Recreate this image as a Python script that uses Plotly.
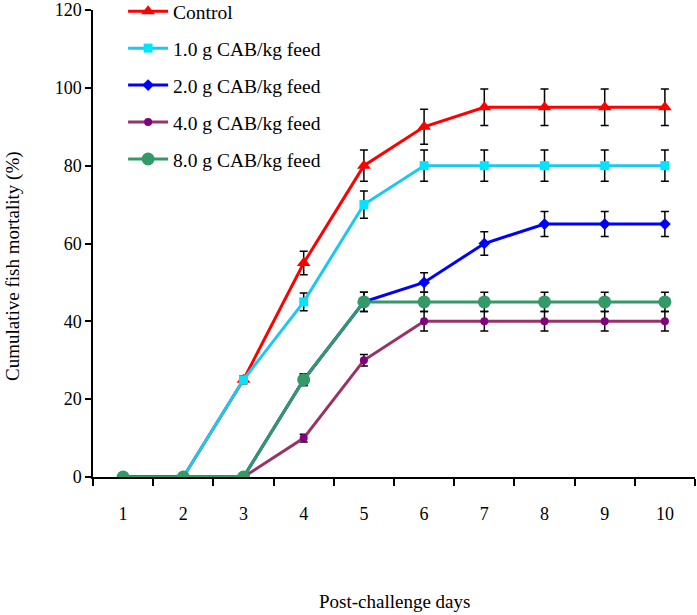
import plotly.graph_objects as go

days = [1, 2, 3, 4, 5, 6, 7, 8, 9, 10]
series_names = ["Control", "1.0 g CAB/kg feed", "2.0 g CAB/kg feed", "4.0 g CAB/kg feed", "8.0 g CAB/kg feed"]
control = [0, 0, 25, 55, 80, 90, 95, 95, 95, 95]
control_err = [0, 0, 1, 3, 4, 4.5, 4.7, 4.7, 4.7, 4.7]
cab1 = [0, 0, 25, 45, 70, 80, 80, 80, 80, 80]
cab1_err = [0, 0, 1, 2.3, 3.5, 4, 4, 4, 4, 4]
cab2 = [0, 0, 0, 25, 45, 50, 60, 65, 65, 65]
cab2_err = [0, 0, 0, 1.5, 2.5, 2.5, 3, 3.2, 3.2, 3.2]
cab4 = [0, 0, 0, 10, 30, 40, 40, 40, 40, 40]
cab4_err = [0, 0, 0, 1, 1.5, 2.5, 2.5, 2.5, 2.5, 2.5]
cab8 = [0, 0, 0, 25, 45, 45, 45, 45, 45, 45]
cab8_err = [0, 0, 0, 1.5, 2.5, 2.5, 2.5, 2.5, 2.5, 2.5]
y_ticks = [0, 20, 40, 60, 80, 100, 120]

FONT = "Liberation Serif, Times New Roman, serif"

styles = [
    dict(line="#FF0000", marker="#FF0000", symbol="triangle-up", size=12),
    dict(line="#1CC8F2", marker="#00E5FF", symbol="square", size=9),
    dict(line="#0000FF", marker="#0000FF", symbol="diamond", size=9),
    dict(line="#993366", marker="#800080", symbol="circle", size=8),
    dict(line="#339966", marker="#339966", symbol="circle", size=13),
]
values = [control, cab1, cab2, cab4, cab8]
errors = [control_err, cab1_err, cab2_err, cab4_err, cab8_err]

fig = go.Figure()
for i, (name, y, e, st) in enumerate(zip(series_names, values, errors, styles)):
    fig.add_trace(go.Scatter(
        x=days, y=y, name=name, mode="lines+markers",
        line=dict(color=st["line"], width=3),
        marker=dict(color=st["marker"], symbol=st["symbol"], size=st["size"]),
        error_y=dict(type="data", array=e, visible=True, color="black", thickness=1.5, width=4),
        legendgroup=f"g{i}",
    ))

TOP = 10
PH = 477 - TOP

fig.update_layout(
    width=697, height=615,
    margin=dict(l=93, r=2, t=TOP, b=138, autoexpand=False),
    paper_bgcolor="white", plot_bgcolor="white",
    font=dict(family=FONT, size=18, color="black"),
    showlegend=True,
    legend=dict(
        x=0.05, y=1 + (TOP + 8) / PH, xanchor="left", yanchor="top",
        bgcolor="rgba(0,0,0,0)", font=dict(size=19.5, family=FONT),
        traceorder="grouped", tracegroupgap=8.6,
        itemwidth=40,
    ),
    xaxis=dict(
        range=[0.5, 10.5], tickvals=days, ticktext=[str(d) for d in days],
        ticks="", showline=True, linecolor="black", linewidth=1.5,
        showgrid=False, zeroline=False, ticklabelstandoff=20, automargin=False,
        ticklabeloverflow="allow",
        minor=dict(tickmode="linear", tick0=0.5, dtick=1, ticks="outside",
                   ticklen=7, tickwidth=1.5, tickcolor="black", showgrid=False),
    ),
    yaxis=dict(
        range=[0, 120], tickmode="array", tickvals=y_ticks,
        ticktext=[str(v) for v in y_ticks], automargin=False,
        ticklabeloverflow="allow",
        ticks="outside", ticklen=6, tickwidth=1.5,
        tickcolor="black", showline=True, linecolor="black", linewidth=1.5,
        showgrid=False, zeroline=False,
    ),
    annotations=[
        dict(text="Post-challenge days", xref="paper", yref="paper",
             x=0.5, y=-(601 - 477) / PH, xanchor="center", yanchor="middle",
             showarrow=False, font=dict(size=19, family=FONT)),
        dict(text="Cumulative fish mortality (%)", xref="paper", yref="paper",
             x=-(93 - 13) / 602, y=1 - (266 - TOP) / PH, xanchor="center", yanchor="middle",
             textangle=-90, showarrow=False, font=dict(size=19, family=FONT)),
    ],
)

fig.write_html("out.html")
